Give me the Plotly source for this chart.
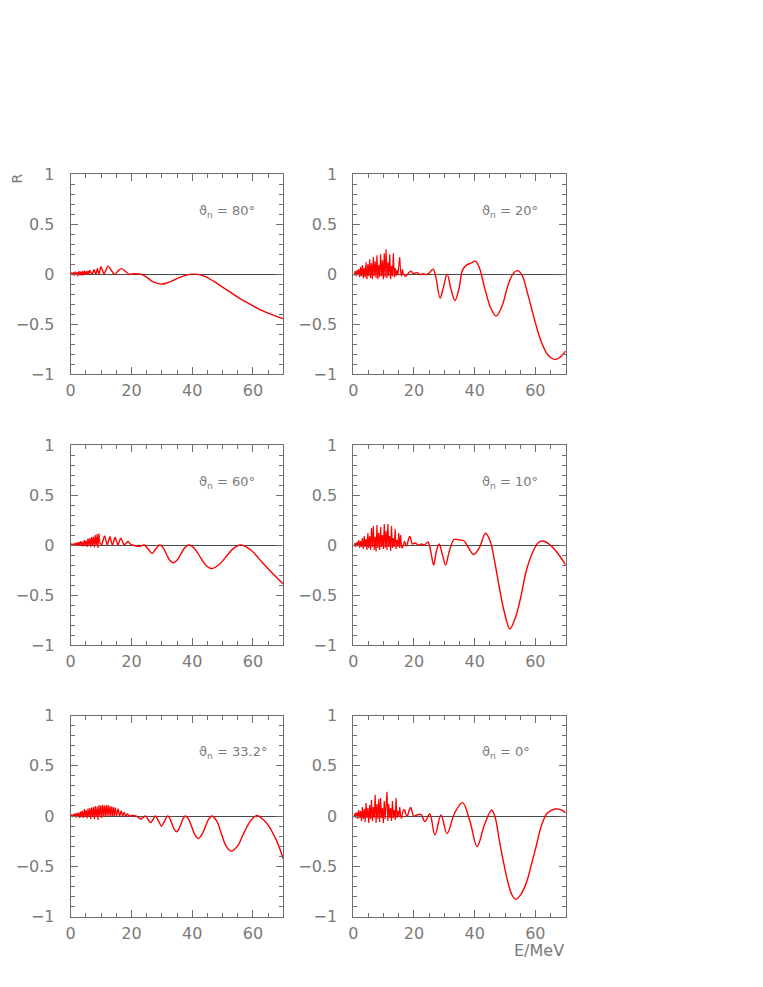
import plotly.graph_objects as go

# ---------------- data ----------------
E_FINE = [0.0, 0.3, 0.6, 0.9, 1.2, 1.5, 1.8, 2.1, 2.4, 2.7, 3.0, 3.3, 3.6, 3.9, 4.2, 4.5,
          4.8, 5.1, 5.4, 5.7, 6.0, 6.3, 6.6, 6.9, 7.2, 7.5, 7.8, 8.1, 8.4, 8.7, 9.0, 9.3,
          9.6, 9.9, 10.2, 10.5, 10.8, 11.1, 11.4, 11.7, 12.0, 12.3, 12.6, 12.9, 13.2, 13.5,
          13.8, 14.1, 14.4, 14.7, 15.0, 15.3, 15.6, 15.9, 16.2, 16.5]

# theta_n = 80 deg
E_80 = E_FINE[:22] + [6.65, 7.0, 7.35, 7.7, 8.0, 8.25, 8.55, 8.8, 9.05, 9.3, 9.6, 9.9, 10.45, 11.0,
                      11.65, 12.3, 13.35, 14.4, 15.55, 16.7, 17.95, 19.2,
                      21.0, 23.0, 25.0, 27.0, 29.8, 32.0, 35.0, 38.0, 40.8, 44.0, 47.0, 50.0,
                      53.0, 56.0, 59.0, 62.0, 65.0, 68.0, 70.0]
R_80 = [0.0, 0.015, -0.01, 0.02, -0.015, 0.025, -0.01, 0.02, -0.02, 0.03, -0.01, 0.025, -0.015,
        0.03, -0.01, 0.035, -0.005, 0.03, 0.0, 0.035, 0.0, 0.04,
        0.015, 0.0, 0.02, 0.045, 0.02, 0.0, 0.025, 0.055, 0.025, 0.0, 0.035, 0.075, 0.04, 0.0,
        0.045, 0.08, 0.04, -0.003, 0.03, 0.055, 0.03, 0.0,
        0.005, 0.0, -0.03, -0.075, -0.1, -0.085, -0.045, -0.01, 0.0, -0.02, -0.07, -0.13,
        -0.19, -0.25, -0.3, -0.35, -0.39, -0.425, -0.445]

# theta_n = 20 deg
E_20 = E_FINE + [17.2, 18.0, 19.0, 19.8, 21.0, 22.0, 23.0, 24.0, 25.0, 26.3, 27.2, 28.6, 29.8,
                 30.9, 32.2, 33.5, 34.8, 36.0, 37.3, 38.8, 40.2, 41.5, 43.3, 45.3, 47.1, 49.0,
                 51.0, 52.6, 54.1, 55.6, 57.5, 59.5, 61.5, 63.5, 65.0, 66.5, 68.0, 70.0]
R_20 = [0.0, -0.01, 0.03, -0.02, 0.04, -0.01, 0.05, -0.03, 0.07, -0.02, 0.09, -0.04, 0.06, -0.03,
        0.12, -0.05, 0.10, -0.02, 0.15, -0.04, 0.11, -0.05, 0.17, -0.02, 0.13, -0.04, 0.19, -0.05,
        0.09, -0.03, 0.20, -0.02, 0.14, -0.05, 0.21, -0.03, 0.25, -0.04, 0.12, -0.02, 0.20, -0.05,
        0.08, -0.02, 0.21, -0.03, 0.06, -0.02, 0.04, -0.01, 0.08, 0.17, 0.02, -0.02, 0.05, 0.0,
        -0.025, 0.005, 0.03, 0.005, 0.015, -0.005, 0.005, -0.005, 0.01, 0.05, -0.03, -0.24, -0.12,
        0.0, -0.15, -0.265, -0.15, 0.04, 0.09, 0.11, 0.13, 0.07, -0.14, -0.34, -0.42, -0.32,
        -0.11, 0.0, 0.035, -0.01, -0.2, -0.43, -0.64, -0.78, -0.835, -0.855, -0.835, -0.77]

# theta_n = 60 deg
E_60 = E_FINE[:33] + [10.2, 10.7, 11.2, 11.65, 12.05, 12.45, 12.9, 13.3, 13.75, 14.2, 14.6, 15.1,
                      15.55, 16.0, 16.5, 17.1, 17.7, 18.3, 18.9, 19.6, 20.2,
                      21.5, 22.8, 24.2, 25.5, 26.8, 28.0, 29.3, 30.4, 31.5, 32.6, 33.8, 35.0,
                      36.3, 37.6, 38.9, 40.75, 42.6, 44.45, 46.3, 48.7, 51.15, 53.6, 56.0,
                      59.5, 62.8, 66.0, 70.0]
R_60 = [0.0, 0.01, -0.005, 0.015, -0.01, 0.02, -0.005, 0.025, -0.01, 0.03, -0.005, 0.04, -0.01,
        0.035, -0.015, 0.05, -0.005, 0.045, -0.02, 0.065, -0.01, 0.07, -0.02, 0.08, 0.0, 0.085,
        -0.025, 0.1, -0.01, 0.11, -0.03, 0.115, 0.02,
        0.0, 0.05, 0.09, 0.04, 0.0, 0.04, 0.083, 0.04, 0.0, 0.04, 0.077, 0.035, 0.0, 0.035, 0.067,
        0.03, 0.0, 0.02, 0.035, 0.01, 0.0,
        -0.01, -0.012, 0.0, -0.04, -0.085, -0.04, 0.0, -0.026, -0.09, -0.152, -0.178, -0.152,
        -0.09, -0.026, 0.0, -0.034, -0.118, -0.2, -0.235, -0.2, -0.118, -0.034, 0.0,
        -0.055, -0.165, -0.27, -0.39]

# theta_n = 10 deg
E_10 = E_FINE + [16.9, 17.5, 18.6, 19.5, 20.3, 21.5, 22.5, 23.5, 24.6, 25.5, 26.5, 27.4, 28.3,
                 29.4, 30.4, 31.5, 33.2, 35.0, 36.5, 38.0, 39.7, 41.5, 43.6, 45.2, 46.8, 48.1,
                 49.7, 51.6, 53.5, 55.2, 57.0, 59.0, 61.0, 62.5, 64.5, 66.5, 68.5, 70.0]
R_10 = [0.0, -0.01, 0.02, -0.02, 0.03, -0.01, 0.05, -0.03, 0.04, -0.02, 0.07, -0.04, 0.09, -0.02,
        0.06, -0.05, 0.12, -0.03, 0.09, -0.05, 0.17, -0.02, 0.19, -0.05, 0.08, -0.065, 0.20, -0.03,
        0.12, -0.05, 0.18, -0.02, 0.10, -0.04, 0.21, -0.03, 0.14, -0.05, 0.21, -0.02, 0.09, -0.06,
        0.19, -0.03, 0.07, -0.02, 0.16, -0.04, 0.05, -0.02, 0.12, -0.03, 0.10, -0.02, -0.03, 0.01,
        0.04, -0.01, 0.085, 0.01, 0.02, 0.0, 0.01, 0.0, 0.03, -0.06, -0.2, -0.06, 0.01, -0.1, -0.2,
        -0.08, 0.055, 0.05, 0.04, -0.03, -0.095, -0.03, 0.117, 0.03, -0.2, -0.42, -0.66, -0.84,
        -0.72, -0.52, -0.26, -0.08, 0.025, 0.04, 0.01, -0.05, -0.13, -0.2]

# theta_n = 33.2 deg
E_33 = E_FINE[:50] + [15.1, 15.6, 16.1, 16.6, 17.1, 17.6, 18.1, 18.7, 19.3, 20.2, 21.5, 22.3,
                      23.1, 23.85, 24.6, 25.45, 26.3, 27.1, 27.9, 28.9, 29.9, 30.9, 31.9, 32.6,
                      33.35, 34.1, 34.8, 35.55, 36.3, 37.05, 37.8, 38.85, 39.9, 40.95, 42.0,
                      43.1, 44.25, 45.4, 46.5, 48.1, 49.6, 51.2, 52.8, 54.9, 57.0, 59.2, 61.3,
                      63.2, 65.0, 67.7, 70.0]
R_33 = [0.0, 0.01, -0.01, 0.02, -0.005, 0.025, -0.015, 0.03, -0.01, 0.035, -0.02, 0.045, -0.005,
        0.05, -0.02, 0.07, -0.01, 0.06, -0.025, 0.075, -0.01, 0.08, -0.03, 0.085, -0.005, 0.09,
        -0.035, 0.1, -0.01, 0.095, -0.04, 0.11, -0.005, 0.105, -0.02, 0.11, 0.0, 0.105, -0.01,
        0.11, 0.0, 0.11, 0.0, 0.1, -0.005, 0.095, 0.0, 0.09, 0.0, 0.085,
        0.0, 0.07, 0.0, 0.05, 0.0, 0.035, 0.0, 0.02, 0.0, 0.005, 0.0, -0.015, -0.03, -0.015, 0.0,
        -0.035, -0.065, -0.035, 0.0, -0.05, -0.1, -0.05, 0.0, -0.023, -0.079, -0.134, -0.157,
        -0.134, -0.079, -0.023, 0.0, -0.033, -0.113, -0.19, -0.225, -0.19, -0.113, -0.033, 0.0,
        -0.05, -0.175, -0.3, -0.35, -0.3, -0.17, -0.05, 0.005, -0.03, -0.09, -0.24, -0.425]

# theta_n = 0 deg
E_0 = E_FINE + [16.9, 17.7, 18.9, 19.9, 21.0, 22.3, 23.6, 25.2, 26.9, 28.9, 30.9, 33.4, 36.0,
                38.5, 40.8, 43.2, 45.6, 46.8, 48.1, 49.5, 50.8, 52.2, 53.5, 55.0, 56.3, 57.4,
                58.8, 60.2, 61.3, 62.4, 64.0, 66.5, 68.5, 70.0]
R_0 = [0.0, -0.01, 0.03, -0.02, 0.04, -0.03, 0.06, -0.02, 0.05, -0.05, 0.09, -0.03, 0.07, -0.06,
       0.13, -0.02, 0.08, -0.07, 0.11, -0.03, 0.16, -0.05, 0.09, -0.02, 0.21, -0.07, 0.12, -0.03,
       0.17, -0.06, 0.18, -0.02, 0.08, -0.07, 0.15, -0.03, 0.10, 0.24, -0.05, 0.12, -0.02, 0.08,
       -0.05, 0.15, -0.02, 0.06, -0.04, 0.18, -0.02, 0.05, -0.01, 0.09, 0.0, -0.025, 0.02, 0.06,
       0.065, 0.0, 0.085, 0.0, 0.01, 0.015, -0.055, 0.02, -0.19, 0.01, -0.175, 0.03, 0.133,
       -0.06, -0.305, -0.09, 0.06, -0.02, -0.24, -0.46, -0.64, -0.78, -0.83, -0.79, -0.72,
       -0.63, -0.47, -0.31, -0.17, -0.06, 0.03, 0.07, 0.06, 0.03]

PANELS = [  # (E, R, number of spiky leading points, label), row by row, left then right
    (E_80, R_80, 22, "80°"), (E_20, R_20, 56, "20°"),
    (E_60, R_60, 33, "60°"), (E_10, R_10, 56, "10°"),
    (E_33, R_33, 50, "33.2°"), (E_0, R_0, 56, "0°"),
]

# ---------------- layout ----------------
W, H = 763, 987
OFF = 8.0  # page body margin of the browser
COLS_PX = [(70.7, 283.3), (353.3, 565.7)]
ROWS_PX = [(174.3, 374.0), (445.0, 645.0), (715.5, 916.5)]
FRAME = "#6e6e6e"
TXT = "#7a7a7a"
FONT = "DejaVu Sans"
RED = "#ff0000"


def px_x(v):
    return (v - OFF) / W


def px_y(v):
    return 1 - (v - OFF) / H


fig = go.Figure()
layout = dict(width=W, height=H, margin=dict(l=0, r=0, t=0, b=0, pad=0, autoexpand=False),
              paper_bgcolor="white", plot_bgcolor="white", showlegend=False)
annotations = []

for k, (E, R, nsp, lab) in enumerate(PANELS):
    r, c = divmod(k, 2)
    n = k + 1
    xs = "" if n == 1 else str(n)
    x0, x1 = COLS_PX[c]
    yt, yb = ROWS_PX[r]
    layout["xaxis" + xs] = dict(
        domain=[px_x(x0), px_x(x1)], anchor="y" + xs, range=[0, 70], automargin=False,
        tickmode="linear", tick0=0, dtick=20, ticks="inside", ticklen=7, tickwidth=1,
        tickcolor=FRAME, showline=True, linecolor=FRAME, linewidth=1, mirror="allticks",
        showgrid=False, zeroline=False,
        minor=dict(ticks="inside", tick0=0, dtick=5, ticklen=4, tickcolor=FRAME, showgrid=False),
        tickfont=dict(family=FONT, size=16, color=TXT), ticklabelstandoff=2)
    layout["yaxis" + xs] = dict(
        domain=[px_y(yb), px_y(yt)], anchor="x" + xs, range=[-1, 1], automargin=False,
        tickmode="linear", tick0=0, dtick=0.5, ticks="inside", ticklen=7, tickwidth=1,
        tickcolor=FRAME, showline=True, linecolor=FRAME, linewidth=1, mirror="allticks",
        showgrid=False, zeroline=True, zerolinecolor="#4a4a4a", zerolinewidth=0.8,
        minor=dict(ticks="inside", tick0=0, dtick=0.1, ticklen=4, tickcolor=FRAME, showgrid=False),
        tickfont=dict(family=FONT, size=16, color=TXT), ticklabelstandoff=12)
    # fast low-energy fluctuations: straight segments
    fig.add_trace(go.Scatter(x=E[:nsp + 1], y=R[:nsp + 1], mode="lines",
                             xaxis="x" + xs, yaxis="y" + xs,
                             line=dict(color=RED, width=1.2), hoverinfo="skip"))
    # smooth part
    fig.add_trace(go.Scatter(x=E[nsp:], y=R[nsp:], mode="lines",
                             xaxis="x" + xs, yaxis="y" + xs,
                             line=dict(color=RED, width=1.4, shape="spline", smoothing=1.0),
                             hoverinfo="skip"))
    annotations.append(dict(text="ϑ<sub>n</sub> = " + lab, xref="x" + xs, yref="y" + xs,
                            x=41.7, y=0.63, xanchor="left", yanchor="middle", showarrow=False,
                            font=dict(family=FONT, size=13, color=TXT)))

annotations.append(dict(text="R", xref="paper", yref="paper", x=px_x(16.5), y=px_y(179),
                        xanchor="center", yanchor="middle", textangle=-90, showarrow=False,
                        font=dict(family=FONT, size=14, color=TXT)))
annotations.append(dict(text="E/MeV", xref="paper", yref="paper", x=px_x(566), y=px_y(950),
                        xanchor="right", yanchor="middle", showarrow=False,
                        font=dict(family=FONT, size=16, color=TXT)))
layout["annotations"] = annotations
fig.update_layout(**layout)
fig.write_html("out.html")
